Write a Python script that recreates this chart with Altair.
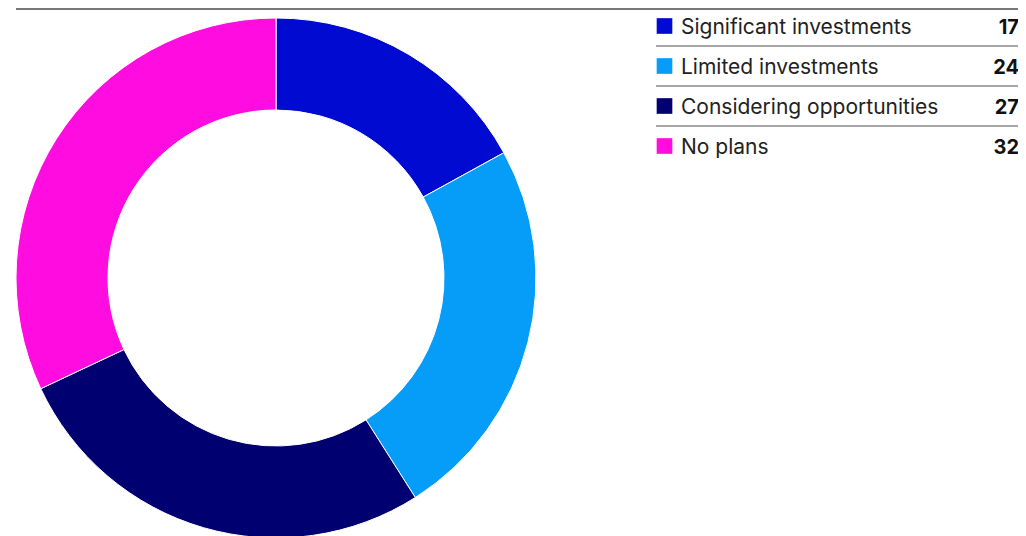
import altair as alt
import pandas as pd

categories = ["Significant investments", "Limited investments", "Considering opportunities", "No plans"]
values = [17, 24, 27, 32]
colors = ["#000ad0", "#069df8", "#000070", "#ff0ce1"]

df = pd.DataFrame({
    "category": categories,
    "value": values,
    "order": list(range(len(categories))),
    "row": [i + 0.5 for i in range(len(categories))],
})
lines = pd.DataFrame({"line": [1, 2, 3]})

color_scale = alt.Scale(domain=categories, range=colors)
yscale = alt.Scale(domain=[0, 4], range=[0, 160])

base = alt.Chart(df)

donut = base.mark_arc(outerRadius=260, innerRadius=168, stroke="white", strokeWidth=1).encode(
    theta=alt.Theta("value:Q", stack=True),
    order=alt.Order("order:Q"),
    color=alt.Color("category:N", scale=color_scale, legend=None),
    x=alt.value(268),
    y=alt.value(270),
)

top_line = alt.Chart(pd.DataFrame({"a": [0]})).mark_rule(color="#777777", strokeWidth=2).encode(
    x=alt.value(8), x2=alt.value(1011), y=alt.value(1)
)

sep = alt.Chart(lines).mark_rule(color="#888888", strokeWidth=1.5, yOffset=-2).encode(
    y=alt.Y("line:Q", scale=yscale, axis=None),
    x=alt.value(648), x2=alt.value(1011),
)

squares = base.mark_square(size=245, opacity=1, yOffset=-2).encode(
    y=alt.Y("row:Q", scale=yscale, axis=None),
    x=alt.value(656.5),
    color=alt.Color("category:N", scale=color_scale, legend=None),
)

labels = base.mark_text(align="left", baseline="middle", font="Inter", fontSize=21, color="#222222", dy=-0.5).encode(
    y=alt.Y("row:Q", scale=yscale, axis=None),
    x=alt.value(673),
    text="category:N",
)

nums = base.mark_text(align="right", baseline="middle", font="Inter", fontSize=20, fontWeight="bold", color="#111111", dy=-0.5).encode(
    y=alt.Y("row:Q", scale=yscale, axis=None),
    x=alt.value(1011),
    text="value:Q",
)

chart = alt.layer(donut, top_line, sep, squares, labels, nums).properties(
    width=1010, height=528, padding=0,
    autosize=alt.AutoSizeParams(type="none"),
).configure_view(stroke=None)

chart.save("out.html", embed_options={"renderer": "svg", "actions": False})
